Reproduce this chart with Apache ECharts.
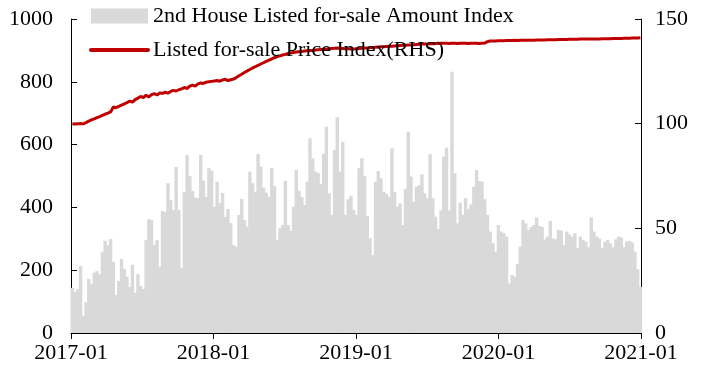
<!DOCTYPE html>
<html>
<head>
<meta charset="utf-8">
<script src="https://cdn.jsdelivr.net/npm/echarts@6/dist/echarts.min.js"></script>
<style>html,body{margin:0;padding:0;background:#fff}#c{width:704px;height:382px}</style>
</head>
<body>
<div id="c"></div>
<script>
// Weekly observations, first week starting 2017-01-01
var xTickLabels = ['2017-01', '2018-01', '2019-01', '2020-01', '2021-01'];
var seriesNames = ['2nd House Listed for-sale Amount Index', 'Listed for-sale Price Index(RHS)'];

var amountIndex = [
  144,131,140,213,55,98,172,156,192,197, 187,257,294,280,299,227,121,166,236,204, 179,147,217,128,187,150,140,296,363,360,
  280,296,211,389,386,477,424,392,529,392, 207,449,567,500,452,431,430,567,485,433, 525,517,402,482,414,446,370,395,350,280,
  275,376,427,360,339,514,477,450,570,530, 463,447,433,525,468,296,334,344,485,344, 326,402,519,453,433,408,482,620,556,514,
  509,474,572,657,445,376,583,687,514,609, 376,426,436,392,376,525,556,500,373,302, 248,482,516,493,450,443,434,588,450,402,
  413,344,459,641,498,418,466,471,505,445, 429,569,429,370,331,390,562,590,390,832, 509,349,415,376,429,395,410,466,519,484,
  482,426,376,323,286,259,344,323,318,307, 158,185,179,220,275,360,349,328,337,344, 368,341,338,298,307,357,301,298,328,326,
  280,323,314,307,318,270,307,296,291,273, 368,323,307,301,271,291,296,286,273,298, 307,304,273,291,293,288,259,203,147
];

var priceIndex = [
  100.0, 99.8, 100.0, 100.1, 99.9, 100.5, 101.2, 101.8, 102.3, 102.9,
  103.4, 104.0, 104.5, 105.0, 105.6, 108.0, 107.6, 108.3, 108.9, 109.4,
  110.0, 110.8, 110.3, 111.5, 112.2, 113.0, 112.4, 113.6, 112.8, 113.9,
  114.3, 113.7, 114.6, 114.5, 115.0, 114.6, 115.4, 115.9, 115.6, 116.2,
  116.6, 117.3, 116.8, 117.9, 118.4, 117.9, 119.0, 119.4, 119.2, 119.8,
  120.0, 120.2, 120.4, 120.6, 120.3, 120.9, 121.2, 120.6, 121.0, 121.3,
  122.0, 122.9, 123.6, 124.4, 125.2, 125.9, 126.6, 127.2, 127.9, 128.5,
  129.1, 129.8, 130.4, 130.9, 131.5, 132.0, 132.4, 132.8, 133.1, 133.5,
  133.8, 134.0, 134.2, 134.4, 134.5, 134.7, 134.8, 134.9, 135.0, 135.2,
  135.3, 135.4, 135.6, 135.7, 135.8, 135.9, 136.0, 136.1, 136.0, 135.9,
  135.8, 135.8, 135.7, 135.7, 135.8, 135.9, 136.0, 136.1, 136.2, 136.3,
  136.4, 136.5, 136.6, 136.7, 136.8, 136.9, 137.0, 137.0, 137.1, 137.2,
  137.3, 137.4, 137.5, 137.6, 137.6, 137.7, 137.8, 137.9, 138.0, 138.0,
  138.1, 138.2, 138.2, 138.3, 138.3, 138.4, 138.4, 138.4, 138.3, 138.4,
  138.4, 138.3, 138.4, 138.4, 138.4, 138.3, 138.4, 138.4, 138.4, 138.3,
  138.4, 138.5, 139.2, 139.5, 139.5, 139.5, 139.6, 139.6, 139.6, 139.7,
  139.7, 139.7, 139.8, 139.7, 139.8, 139.8, 139.8, 139.9, 139.9, 139.9,
  140.0, 140.0, 140.0, 140.0, 140.1, 140.1, 140.1, 140.1, 140.2, 140.2,
  140.2, 140.2, 140.3, 140.3, 140.3, 140.3, 140.4, 140.4, 140.4, 140.4,
  140.5, 140.5, 140.5, 140.5, 140.6, 140.6, 140.6, 140.6, 140.7, 140.7,
  140.7, 140.7, 140.8, 140.8, 140.8, 140.9, 140.9, 140.9, 141.0
];

// x position of each week = days since 2017-01-01 (week midpoint)
var DAYS_PER_YEAR = 365.25;
function weekDay(i) { return 7 * i + 3.5; }
var barData = amountIndex.map(function (v, i) { return [weekDay(i), v]; });
var lineData = priceIndex.map(function (v, i) { return [weekDay(i), v]; });

var FONT = 'Liberation Serif';
var FS = 22;
var chart = echarts.init(document.getElementById('c'), null, { renderer: 'canvas' });
chart.setOption({
  animation: false,
  backgroundColor: '#ffffff',
  textStyle: { fontFamily: FONT },
  grid: { left: 71, right: 63, top: 19, bottom: 49, containLabel: false },
  legend: {
    orient: 'vertical', left: 84, top: 0, itemWidth: 57, itemHeight: 15, itemGap: 12,
    textStyle: { fontFamily: FONT, fontSize: FS, color: '#000' },
    data: [
      { name: seriesNames[0], icon: 'rect' },
      { name: seriesNames[1], itemStyle: { opacity: 0 }, lineStyle: { width: 4, cap: 'round', color: '#c00000' } }
    ]
  },
  xAxis: {
    type: 'value', min: 0, max: 4 * DAYS_PER_YEAR, interval: DAYS_PER_YEAR,
    axisLine: { lineStyle: { color: '#000', width: 1 } },
    axisTick: { show: true, inside: false, length: 6, lineStyle: { color: '#000' } },
    splitLine: { show: false },
    axisLabel: {
      fontFamily: FONT, fontSize: FS, color: '#000', margin: 9,
      formatter: function (v) { return xTickLabels[Math.round(v / DAYS_PER_YEAR)] || ''; }
    }
  },
  yAxis: [
    {
      type: 'value', min: 0, max: 1000, interval: 200, position: 'left',
      axisLine: { show: true, lineStyle: { color: '#000', width: 1 } },
      axisTick: { show: true, inside: true, length: 6, lineStyle: { color: '#000' } },
      splitLine: { show: false },
      axisLabel: { fontFamily: FONT, fontSize: FS, color: '#000', margin: 18, formatter: function (v) { return String(v); } }
    },
    {
      type: 'value', min: 0, max: 150, interval: 50, position: 'right',
      axisLine: { show: true, lineStyle: { color: '#000', width: 1 } },
      axisTick: { show: true, inside: true, length: 6, lineStyle: { color: '#000' } },
      splitLine: { show: false },
      axisLabel: { fontFamily: FONT, fontSize: FS, color: '#000', margin: 14, formatter: function (v) { return String(v); } }
    }
  ],
  series: [
    {
      name: seriesNames[0], type: 'bar', yAxisIndex: 0, data: barData,
      barWidth: 3.4, itemStyle: { color: '#d9d9d9' }, z: 1
    },
    {
      name: seriesNames[1], type: 'line', yAxisIndex: 1, data: lineData,
      symbol: 'none', lineStyle: { color: '#c00000', width: 3 }, itemStyle: { color: '#c00000' }, z: 3
    }
  ]
});
</script>
</body>
</html>
